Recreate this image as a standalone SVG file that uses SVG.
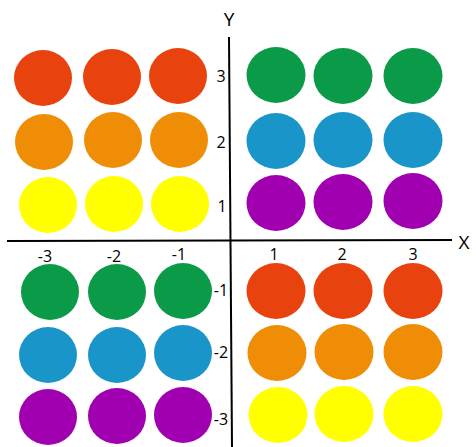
<svg xmlns="http://www.w3.org/2000/svg" width="476" height="447" viewBox="0 0 476 447">
<style>
.r{fill:#E8420E}.g{fill:#0B9B48}.o{fill:#EF8E06}.b{fill:#1A95C9}.y{fill:#FFFF00}.p{fill:#A000AF}
.ax{stroke:#000;stroke-width:2;fill:none}
text{font-family:"Open Sans","Liberation Sans",sans-serif;font-size:16px;fill:#000;text-anchor:middle}
.big{font-size:19px}
</style>
<rect width="476" height="447" fill="#fff"/>
<g id="axes">
<line class="ax" x1="229" y1="37" x2="232" y2="447"/>
<line class="ax" x1="7" y1="241" x2="452" y2="240"/>
<text class="big" x="229" y="26">Y</text>
<text class="big" x="464" y="249">X</text>
</g>
<g id="quadrant-top-left">
<ellipse class="r" cx="43" cy="78" rx="29" ry="28"/>
<ellipse class="r" cx="112" cy="77" rx="29" ry="28"/>
<ellipse class="r" cx="178" cy="76" rx="29" ry="28"/>
<ellipse class="o" cx="44" cy="142" rx="29" ry="28"/>
<ellipse class="o" cx="113" cy="140" rx="29" ry="28"/>
<ellipse class="o" cx="179" cy="140" rx="29" ry="28"/>
<ellipse class="y" cx="48" cy="205" rx="29" ry="28"/>
<ellipse class="y" cx="114" cy="204" rx="29" ry="28"/>
<ellipse class="y" cx="180" cy="204" rx="29" ry="28"/>
</g>
<g id="quadrant-top-right">
<ellipse class="g" cx="276" cy="75" rx="29.5" ry="28"/>
<ellipse class="g" cx="343" cy="76" rx="29.5" ry="28"/>
<ellipse class="g" cx="413" cy="76" rx="29.5" ry="28"/>
<ellipse class="b" cx="276" cy="141" rx="29.5" ry="28"/>
<ellipse class="b" cx="343" cy="140" rx="29.5" ry="28"/>
<ellipse class="b" cx="413" cy="140" rx="29.5" ry="28"/>
<ellipse class="p" cx="276" cy="203" rx="29.5" ry="28"/>
<ellipse class="p" cx="343" cy="202" rx="29.5" ry="28"/>
<ellipse class="p" cx="413" cy="201" rx="29.5" ry="28"/>
</g>
<g id="quadrant-bottom-left">
<ellipse class="g" cx="50" cy="292" rx="29" ry="28"/>
<ellipse class="g" cx="117" cy="292" rx="29" ry="28"/>
<ellipse class="g" cx="183" cy="291" rx="29" ry="28"/>
<ellipse class="b" cx="48" cy="355" rx="29" ry="28"/>
<ellipse class="b" cx="117" cy="355" rx="29" ry="28"/>
<ellipse class="b" cx="183" cy="353" rx="29" ry="28"/>
<ellipse class="p" cx="48" cy="417" rx="29" ry="28"/>
<ellipse class="p" cx="117" cy="416" rx="29" ry="28"/>
<ellipse class="p" cx="183" cy="415" rx="29" ry="28"/>
</g>
<g id="quadrant-bottom-right">
<ellipse class="r" cx="276" cy="291" rx="29.5" ry="28"/>
<ellipse class="r" cx="343" cy="291" rx="29.5" ry="28"/>
<ellipse class="r" cx="413" cy="291" rx="29.5" ry="28"/>
<ellipse class="o" cx="277" cy="353" rx="29.5" ry="28"/>
<ellipse class="o" cx="344" cy="352" rx="29.5" ry="28"/>
<ellipse class="o" cx="413" cy="352" rx="29.5" ry="28"/>
<ellipse class="y" cx="278" cy="415" rx="29.5" ry="28"/>
<ellipse class="y" cx="344" cy="414" rx="29.5" ry="28"/>
<ellipse class="y" cx="413" cy="414" rx="29.5" ry="28"/>
</g>
<g id="tick-labels">
<text x="221" y="82">3</text>
<text x="221" y="148">2</text>
<text x="222" y="212">1</text>
<text x="45" y="262">-3</text>
<text x="114" y="262">-2</text>
<text x="179" y="260">-1</text>
<text x="274" y="260">1</text>
<text x="342" y="260">2</text>
<text x="413" y="260">3</text>
<text x="221" y="296">-1</text>
<text x="221" y="358">-2</text>
<text x="221" y="425">-3</text>
</g>
</svg>
